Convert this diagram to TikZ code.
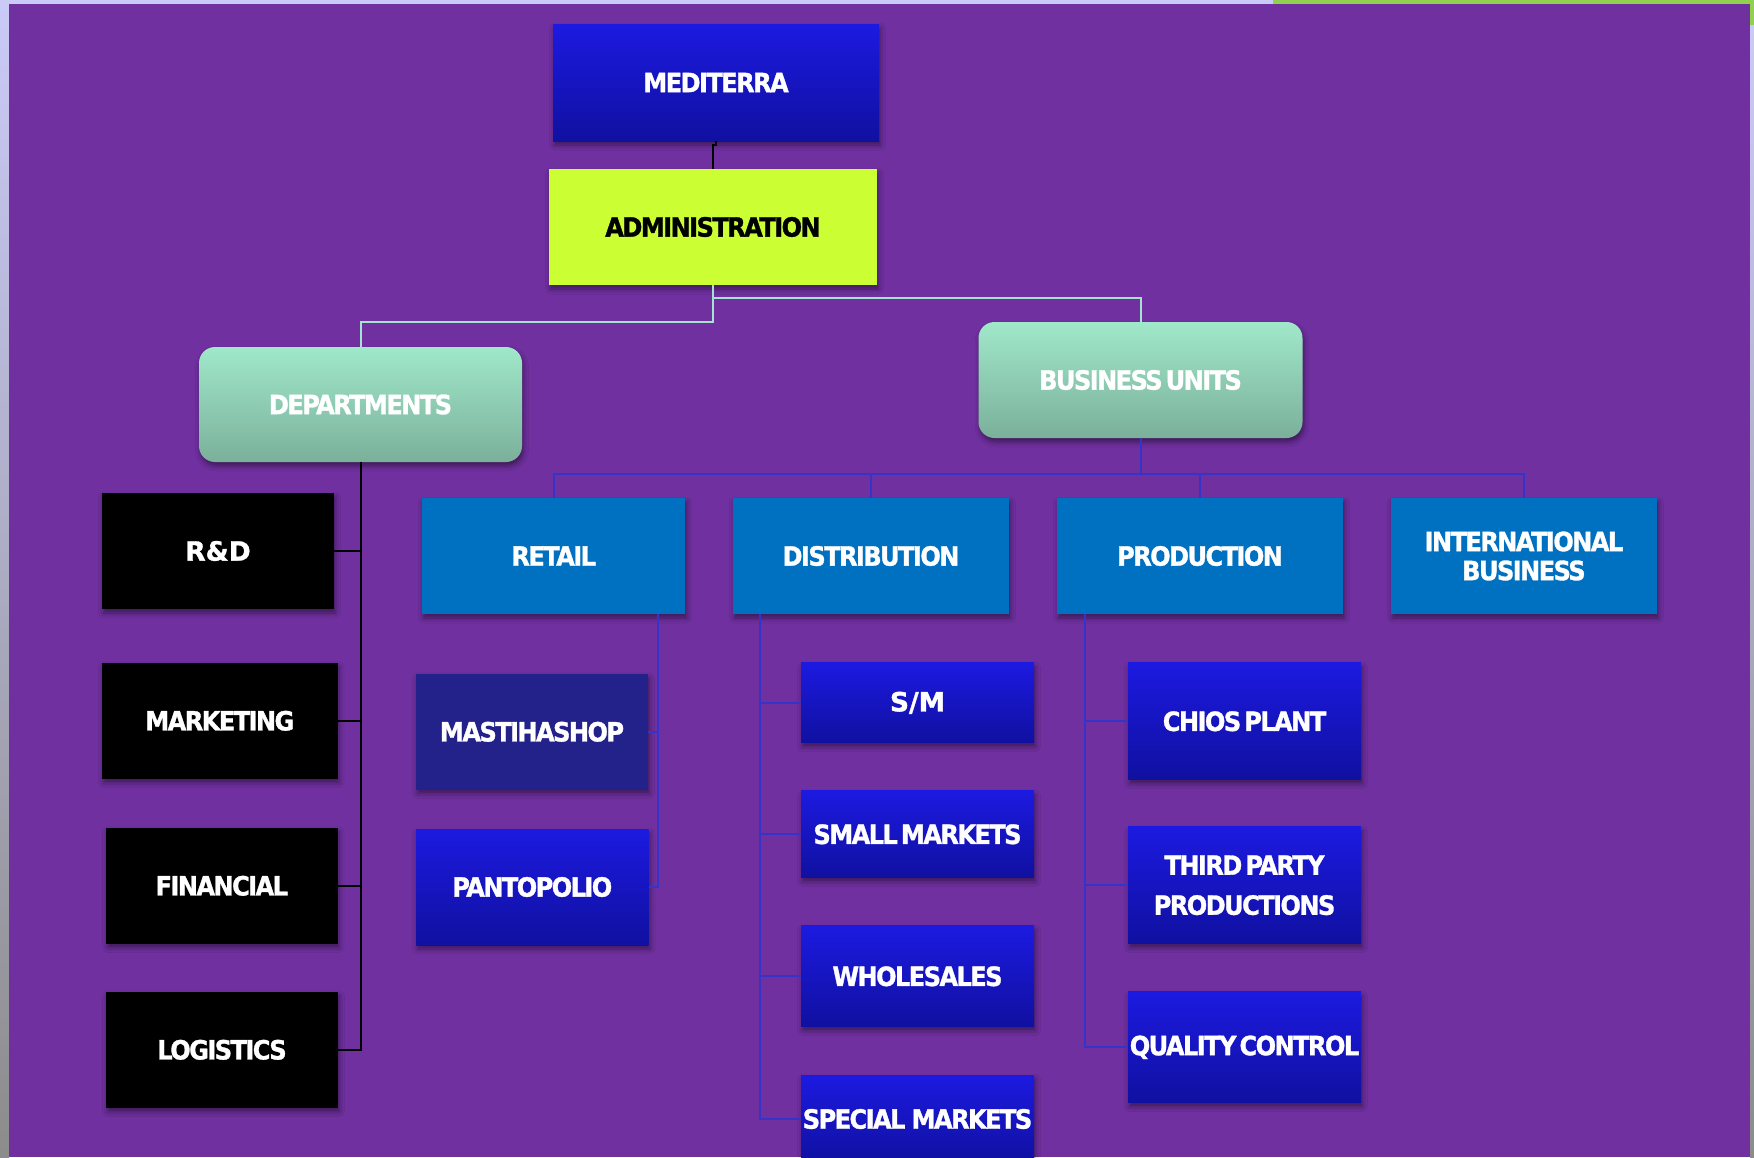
\documentclass[tikz,border=0pt]{standalone}
\usepackage{fontspec}
\setmainfont{DejaVu Sans}
\newfontfamily\cf{DejaVu Sans}[FakeStretch=0.91,LetterSpace=-6,FakeBold=1.2,WordSpace=0.45]
\newfontfamily\nf{DejaVu Sans}[FakeBold=1.2]
\usetikzlibrary{shadows.blur}
\definecolor{bgpurple}{HTML}{7030A0}
\definecolor{lav}{HTML}{CACAF8}
\definecolor{stripgray}{HTML}{8C8C8C}
\definecolor{topgreen}{HTML}{92D050}
\definecolor{dbtop}{RGB}{28,26,224}
\definecolor{dbbot}{RGB}{16,16,160}
\definecolor{tltop}{HTML}{A0E8CA}
\definecolor{tlbot}{HTML}{7BB09A}
\definecolor{midblue}{HTML}{0070C0}
\definecolor{navy}{HTML}{22228A}
\definecolor{lime}{HTML}{CCFF33}
\definecolor{tealline}{HTML}{A4E2D2}
\definecolor{blueline}{HTML}{3434C8}
\tikzset{
  base/.style={rectangle, inner sep=0pt, outer sep=0pt, text=white, align=center,
    font=\cf\bfseries\fontsize{26.5}{30}\selectfont,
    blur shadow={shadow xshift=1.5pt, shadow yshift=-4pt, shadow blur radius=5pt, shadow opacity=45}},
  darkbox/.style={base, top color=dbtop, bottom color=dbbot},
  tealbox/.style={base, rounded corners=16pt, top color=tltop, bottom color=tlbot},
  bluebox/.style={base, fill=midblue},
  blackbox/.style={base, fill=black},
  navybox/.style={base, fill=navy},
  limebox/.style={base, fill=lime, text=black},
  blkline/.style={draw=black, line width=2pt},
  tline/.style={draw=tealline, line width=2pt},
  bline/.style={draw=blueline, line width=2pt},
}
\begin{document}
\begin{tikzpicture}[x=1pt,y=-1pt]
\useasboundingbox (0,0) rectangle (1754,1157);
% background and frame strips
\fill[lav] (0,0) rectangle (1754,1157);
\shade[top color=lav, bottom color=stripgray] (0,0) rectangle (9,1157);
\shade[top color=lav, bottom color=stripgray] (1750,25) rectangle (1754,1157);
\fill[topgreen] (1273,0) rectangle (1754,4);
\fill[topgreen] (1750,0) rectangle (1754,25);
\fill[bgpurple] (9,4) rectangle (1750,1157);

% top
\node[darkbox, minimum width=326pt, minimum height=117pt] (med) at (716,82.5) {MEDITERRA};
\node[limebox, minimum width=328pt, minimum height=116pt] (admin) at (713,227) {ADMINISTRATION};
\node[tealbox, minimum width=323pt, minimum height=115pt] (dep) at (360.5,404.5) {DEPARTMENTS};
\node[tealbox, minimum width=324pt, minimum height=116pt] (bu) at (1140.5,380) {BUSINESS UNITS};

% departments
\node[blackbox, minimum width=232pt, minimum height=116pt] (rd) at (218,551) {\nf\bfseries R\&D};
\node[blackbox, minimum width=235.5pt, minimum height=115.7pt] (mkt) at (219.8,720.8) {MARKETING};
\node[blackbox, minimum width=231.5pt, minimum height=115.7pt] (fin) at (221.8,885.8) {FINANCIAL};
\node[blackbox, minimum width=232pt, minimum height=115.7pt] (log) at (222,1049.8) {LOGISTICS};

% business units
\node[bluebox, minimum width=263.5pt, minimum height=116pt] (retail) at (553.7,556) {RETAIL};
\node[bluebox, minimum width=276pt, minimum height=116pt] (dist) at (871,556) {DISTRIBUTION};
\node[bluebox, minimum width=286pt, minimum height=116pt] (prod) at (1200,556) {PRODUCTION};
\node[bluebox, minimum width=266pt, minimum height=116pt, font=\cf\bfseries\fontsize{26.5}{29}\selectfont] (intl) at (1523.9,556) {INTERNATIONAL\\BUSINESS};

% retail
\node[navybox, minimum width=232pt, minimum height=115.7pt] (mast) at (532,731.8) {MASTIHASHOP};
\node[darkbox, minimum width=232.6pt, minimum height=116pt] (pant) at (532.3,887) {PANTOPOLIO};

% distribution
\node[darkbox, minimum width=233pt, minimum height=79.7pt] (sm) at (917.5,702.8) {\nf\bfseries S/M};
\node[darkbox, minimum width=233pt, minimum height=86.7pt] (small) at (917.5,834.3) {SMALL MARKETS};
\node[darkbox, minimum width=233pt, minimum height=100.7pt] (whole) at (917.5,976.3) {WHOLESALES};
\node[darkbox, minimum width=233pt, minimum height=88pt] (spec) at (917.5,1119) {SPECIAL\ \ MARKETS};

% production
\node[darkbox, minimum width=233pt, minimum height=116.7pt] (chios) at (1244.5,721.3) {CHIOS PLANT};
\node[darkbox, minimum width=233pt, minimum height=116.7pt, font=\cf\bfseries\fontsize{26.5}{40}\selectfont] (third) at (1244.5,885.3) {THIRD PARTY\\PRODUCTIONS};
\node[darkbox, minimum width=233pt, minimum height=110.7pt] (qc) at (1244.5,1047.3) {QUALITY CONTROL};

% connectors
\draw[blkline] (med.south) -- ++(0,4) -| (admin.north);
\draw[tline] (admin.south) -- ++(0,13) -| (bu.north);
\draw[tline] (admin.south) -- ++(0,37) -| (dep.north);
\foreach \n in {rd,mkt,fin,log} \draw[blkline] (dep.south) |- (\n.east);
\foreach \n in {retail,dist,prod,intl} \draw[bline] (bu.south) -- ++(0,36) -| (\n.north);
\foreach \n in {mast,pant} \draw[bline] ([xshift=-27.5pt]retail.south east) |- (\n.east);
\foreach \n in {sm,small,whole,spec} \draw[bline] ([xshift=27pt]dist.south west) |- (\n.west);
\foreach \n in {chios,third,qc} \draw[bline] ([xshift=28pt]prod.south west) |- (\n.west);
\end{tikzpicture}
\end{document}
